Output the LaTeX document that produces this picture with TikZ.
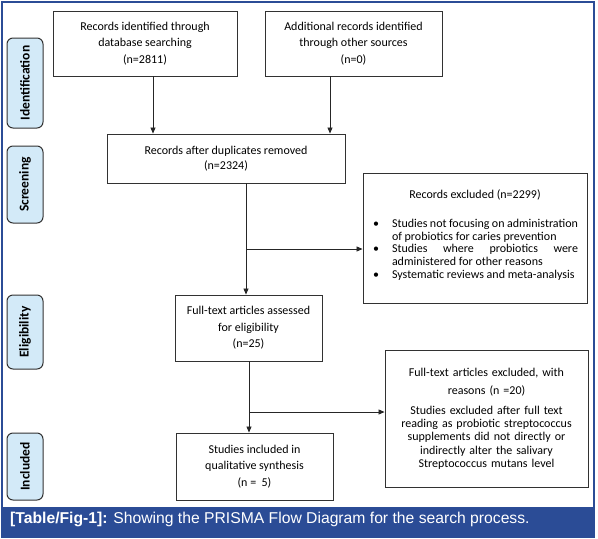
\documentclass[tikz,border=0pt]{standalone}
\usepackage{fontspec}
\setmainfont{Carlito}
\newfontfamily\capfont{Liberation Sans}
\usetikzlibrary{arrows.meta, positioning, calc}

\definecolor{frameblue}{RGB}{43,76,150}
\definecolor{stagefill}{RGB}{211,234,248}
\definecolor{edgegray}{RGB}{50,50,50}

\tikzset{
  box/.style={draw=edgegray, line width=0.9pt, align=center, inner sep=0pt,
    font=\fontsize{12}{16.5}\selectfont},
  stage/.style={draw=edgegray, line width=1pt, rounded corners=6pt, fill=stagefill,
    rotate=90, inner sep=0pt, minimum height=36pt, font=\fontsize{13.5}{14}\bfseries\selectfont},
  link/.style={->, line width=0.8pt, draw=black!85}
}

\begin{document}
\begin{tikzpicture}[x=1pt, y=-1pt, >={Triangle[length=6pt,width=5pt]}]
        \useasboundingbox (0,0) rectangle (598,539);

        % Frame and caption bar
        \draw[frameblue, line width=1.2pt] (2,2) rectangle (594,537);
        \fill[frameblue] (2,507) rectangle (594,537);
        \node[anchor=base west, text=white, inner sep=0pt, font=\capfont\fontsize{15.7}{17}\selectfont] (caption) at (10,523.5)
            {\textbf{[Table/Fig-1]:} Showing the PRISMA Flow Diagram for the search process.};

        % Stage labels
        \node[stage, minimum width=90pt] (sident) at (25,83) {Identification};
        \node[stage, minimum width=77pt] (sscreen) at (25,184.5) {Screening};
        \node[stage, minimum width=74pt] (selig) at (25,332) {Eligibility};
        \node[stage, minimum width=67pt] (sincl) at (25,466.5) {Included};

        % Identification
        \node[box, minimum width=184pt, minimum height=65pt] (ident) at (145,43.5)
            {Records identified through\\database searching\\(n=2811)};
        \node[box, minimum width=177pt, minimum height=65pt] (other) at (353.5,43.5)
            {Additional records identified\\through other sources\\(n=0)};

        % Screening
        \node[box, minimum width=238pt, minimum height=49pt, font=\fontsize{12}{15}\selectfont] (dup) at (226,158.5)
            {Records after duplicates removed\\(n=2324)};
        \node[box, align=justify, text width=206pt, inner xsep=9pt, minimum height=130pt,
              font=\fontsize{12}{12.7}\selectfont] (excl) at (475,238)
            {{\centering Records excluded (n=2299)\par}
             \vspace{16pt}
             \begin{list}{\textbullet}{\setlength\leftmargin{20pt}\setlength\labelsep{13pt}
               \setlength\labelwidth{6pt}\setlength\itemsep{0pt}\setlength\parsep{0pt}
               \setlength\topsep{0pt}\setlength\partopsep{0pt}}
             \item Studies not focusing on administration\linebreak of probiotics for caries prevention
             \item Studies where probiotics were\linebreak administered for other reasons
             \item Systematic reviews and meta-analysis
             \end{list}
             \vspace{6pt}\hrule height 0pt width 0pt};

        % Eligibility
        \node[box, minimum width=147pt, minimum height=66pt] (elig) at (248.5,328)
            {Full-text articles assessed\\for eligibility\\(n=25)};
        \node[box, text width=185pt, inner xsep=9pt, minimum height=137pt, font=\fontsize{12}{13.3}\selectfont] (ftexcl) at (486.5,418.5)
            {{\fontsize{12}{18}\selectfont Full-text articles excluded, with\\reasons (n =20)\par}
             \vspace{6.7pt}
             Studies excluded after full text\\reading as probiotic streptococcus\\supplements did not directly or\\indirectly alter the salivary\\Streptococcus mutans level};

        % Included
        \node[box, minimum width=157pt, minimum height=67pt] (incl) at (254.5,466.5)
            {Studies included in\\qualitative synthesis\\(n =\ \ 5)};

        % Connectors
        \coordinate (a1) at (153,0);
        \coordinate (a2) at (330,0);
        \coordinate (t1) at (246,249);
        \coordinate (t2) at (249,412);
        \draw[link] (ident.south -| a1) -- (dup.north -| a1);
        \draw[link] (other.south -| a2) -- (dup.north -| a2);
        \draw[link] (dup.south -| t1) -- (elig.north -| t1);
        \draw[link] (t1) -- (t1 -| excl.west);
        \draw[link] (elig.south -| t2) -- (incl.north -| t2);
        \draw[link] (t2) -- (t2 -| ftexcl.west);
\end{tikzpicture}
\end{document}
